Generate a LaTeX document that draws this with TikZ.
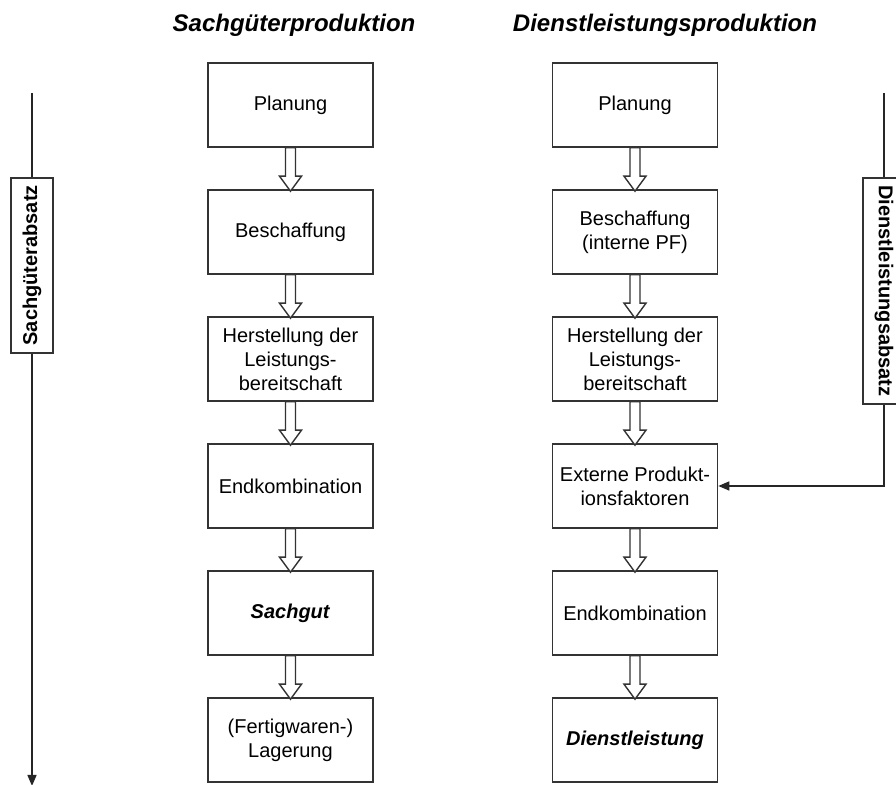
\documentclass[tikz,border=0pt]{standalone}
\usepackage{fontspec}
\setmainfont{Liberation Sans}
\usetikzlibrary{calc,arrows.meta}

% hollow block arrow from the bottom of one stage to the top of the next
\newcommand\flowarrow[2]{%
  \draw[flow] let \p1=(#1.south), \p2=(#2.north) in
    (\x1-2.5pt,\y1) -- (\x1-2.5pt,\y2+6.5pt) -- (\x1-5.5pt,\y2+6.5pt) -- (\x1,\y2-1pt)
    -- (\x1+5.5pt,\y2+6.5pt) -- (\x1+2.5pt,\y2+6.5pt) -- (\x1+2.5pt,\y1) -- cycle;}

\begin{document}
\begin{tikzpicture}[x=0.5pt,y=-0.5pt,
  stage/.style={draw=black!80, line width=0.8pt, fill=white,
    minimum width=82.5pt, minimum height=42pt, inner sep=0pt,
    align=center, font=\fontsize{10}{12}\selectfont},
  heading/.style={font=\fontsize{12}{14}\selectfont\bfseries\itshape, anchor=base},
  sidelabel/.style={draw=black!80, line width=0.8pt, fill=white,
    minimum height=21pt, inner xsep=3.75pt, inner ysep=0pt,
    font=\fontsize{10}{12}\selectfont\bfseries},
  link/.style={draw=black!85, line width=0.75pt},
  flow/.style={draw=black!80, line width=0.7pt, fill=white, line join=miter},
  tip/.style={-{Triangle[length=5.5pt,width=4.5pt]}},
]
\path[use as bounding box] (0,0) rectangle (896,785);
\clip (0,0) rectangle (896,785);

% column headings
\node[heading] (t1) at (294,32) {Sachgüterproduktion};
\node[heading] (t2) at (665,32) {Dienstleistungsproduktion};

% goods production
\node[stage] (s1) at (290.5,105) {Planung};
\node[stage] (s2) at (290.5,232) {Beschaffung};
\node[stage] (s3) at (290.5,359) {Herstellung der\\Leistungs-\\bereitschaft};
\node[stage] (s4) at (290.5,486) {Endkombination};
\node[stage] (s5) at (290.5,613) {\textbf{\textit{Sachgut}}};
\node[stage] (s6) at (290.5,740) {(Fertigwaren-)\\Lagerung};

% service production
\node[stage] (d1) at (635,105) {Planung};
\node[stage] (d2) at (635,232) {Beschaffung\\(interne PF)};
\node[stage] (d3) at (635,359) {Herstellung der\\Leistungs-\\bereitschaft};
\node[stage] (d4) at (635,486) {Externe Produkt-\\ionsfaktoren};
\node[stage] (d5) at (635,613) {Endkombination};
\node[stage] (d6) at (635,740) {\textbf{\textit{Dienstleistung}}};

\foreach \a/\b in {s1/s2,s2/s3,s3/s4,s4/s5,s5/s6,d1/d2,d2/d3,d3/d4,d4/d5,d5/d6}
  {\flowarrow{\a}{\b}}

% sales of goods (left axis)
\coordinate (sa top) at (32,93);
\coordinate (sa end) at (32,786);
\node[sidelabel, rotate=90, anchor=east] (sa) at (32,177) {Sachgüterabsatz};
\draw[link] (sa top) -- (sa);
\draw[link, tip] (sa) -- (sa end);

% sales of services (right axis)
\coordinate (da top) at (884,93);
\node[sidelabel, rotate=-90, anchor=west] (da) at (884,177) {Dienstleistungsabsatz};
\draw[link] (da top) -- (da);
\draw[link, tip] (da) |- (d4);
\end{tikzpicture}
\end{document}
